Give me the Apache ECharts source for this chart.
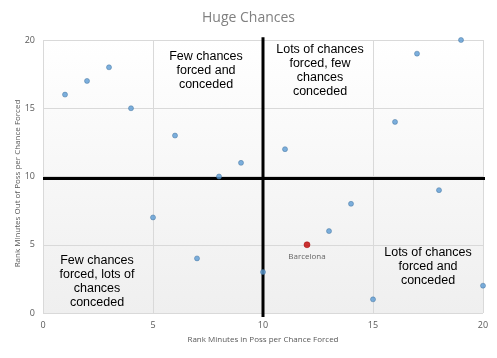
<!DOCTYPE html>
<html><head><meta charset="utf-8">
<script src="https://cdn.jsdelivr.net/npm/echarts@6/dist/echarts.min.js"></script>
<style>html,body{margin:0;padding:0;background:#fff}#c{width:497px;height:358px}</style>
</head><body><div id="c"></div>
<script>
const teams = ['','','','','','','','','','','','Barcelona','','','','','','','',''];
const rankInPoss = [1,2,3,4,5,6,7,8,9,10,11,12,13,14,15,16,17,18,19,20];
const rankOutPoss = [16,17,18,15,7,13,4,10,11,3,12,5,6,8,1,14,19,9,20,2];
const xTicks = [0,5,10,15,20];
const yTicks = [0,5,10,15,20];
const vLineX = [10,10];
const vLineY = [20.2,-0.3];
const hLineX = [0,20.15];
const hLineY = [9.85,9.85];

const blue = [], red = [];
rankInPoss.forEach((x,i)=>{
  const p = {value:[x, rankOutPoss[i]], name: teams[i]};
  if (teams[i] === 'Barcelona') red.push(p); else blue.push(p);
});

const chart = echarts.init(document.getElementById('c'));
const axisLbl = {color:'#595959', fontSize:9, fontFamily:'Open Sans'};
chart.setOption({
  animation:false,
  title:{text:'Huge Chances', left:'center', top:6,
    textStyle:{color:'#808080', fontSize:14, fontWeight:'normal', fontFamily:'Open Sans'}},
  grid:{left:43, right:14, top:40, bottom:45, show:true, borderWidth:0, containLabel:false, outerBoundsMode:'none',
    backgroundColor: new echarts.graphic.LinearGradient(0,0,0,1,[{offset:0,color:'#ffffff'},{offset:1,color:'#efefef'}])},
  xAxis:{type:'value', min:0, max:20, interval:5,
    name:'Rank Minutes in Poss per Chance Forced', nameLocation:'middle', nameGap:23, nameMoveOverlap:false,
    nameTextStyle:{color:'#595959', fontSize:8, fontFamily:'Open Sans'},
    axisLine:{show:false}, axisTick:{show:false},
    axisLabel:Object.assign({margin:8}, axisLbl),
    splitLine:{show:true, lineStyle:{color:'#d9d9d9', width:1}}},
  yAxis:{type:'value', min:0, max:20, interval:5,
    name:'Rank Minutes Out of Poss per Chance Forced', nameLocation:'middle', nameGap:21, nameMoveOverlap:false,
    nameTextStyle:{color:'#595959', fontSize:8, fontFamily:'Open Sans', padding:[0,0,0,-14]},
    axisLine:{show:false}, axisTick:{show:false},
    axisLabel:Object.assign({margin:8}, axisLbl),
    splitLine:{show:true, lineStyle:{color:'#d9d9d9', width:1}}},
  series:[
    {type:'line', data:vLineX.map((x,i)=>[x,vLineY[i]]), symbol:'none', clip:false,
      lineStyle:{color:'#000', width:3}, z:3},
    {type:'line', data:hLineX.map((x,i)=>[x,hLineY[i]]), symbol:'none', clip:false,
      lineStyle:{color:'#000', width:3}, z:3},
    {type:'scatter', data:blue, symbolSize:5, z:5,
      itemStyle:{color:'#5b9bd5', borderColor:'#41719c', borderWidth:0.6}},
    {type:'scatter', data:red, symbolSize:6, z:5,
      itemStyle:{color:'#c00000', borderColor:'#a00000', borderWidth:0.6},
      label:{show:true, position:'bottom', distance:5, formatter:'{b}',
        color:'#404040', fontSize:8, fontFamily:'Open Sans'}}
  ],
  graphic:[
    {type:'text', x:206, y:50, style:{text:'Few chances\nforced and\nconceded', align:'center', verticalAlign:'top',
      font:'12.5px "Liberation Sans"', lineHeight:14, fill:'#000'}},
    {type:'text', x:320, y:43, style:{text:'Lots of chances\nforced, few\nchances\nconceded', align:'center', verticalAlign:'top',
      font:'12.5px "Liberation Sans"', lineHeight:14, fill:'#000'}},
    {type:'text', x:97, y:254, style:{text:'Few chances\nforced, lots of\nchances\nconceded', align:'center', verticalAlign:'top',
      font:'12.5px "Liberation Sans"', lineHeight:14, fill:'#000'}},
    {type:'text', x:428, y:246, style:{text:'Lots of chances\nforced and\nconceded', align:'center', verticalAlign:'top',
      font:'12.5px "Liberation Sans"', lineHeight:14, fill:'#000'}}
  ]
});
</script></body></html>
